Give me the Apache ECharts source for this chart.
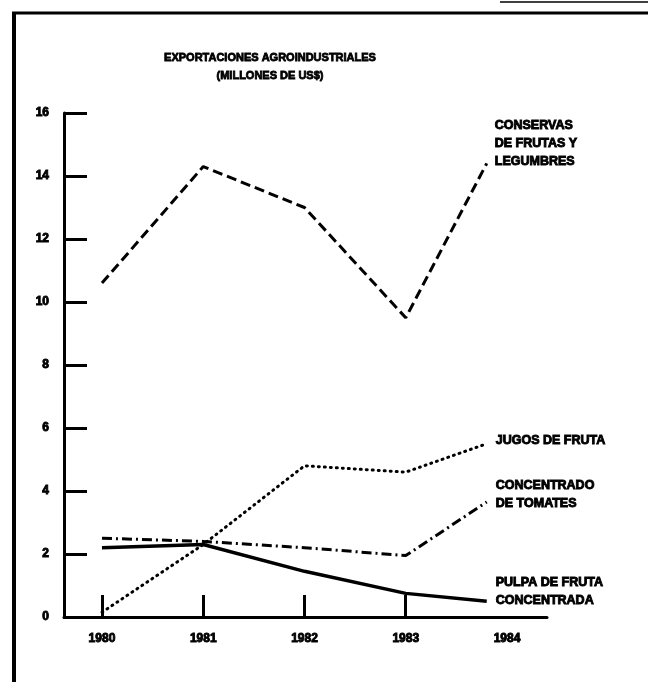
<!DOCTYPE html>
<html>
<head>
<meta charset="utf-8">
<script src="https://cdn.jsdelivr.net/npm/echarts@6/dist/echarts.min.js"></script>
<style>
html,body{margin:0;padding:0;background:#fff;}
#chart{width:648px;height:682px;}
</style>
</head>
<body>
<div id="chart"></div>
<script>
// ---- data ----
const titleLines = ['EXPORTACIONES AGROINDUSTRIALES', '(MILLONES DE US$)'];
// x positions of the points (the drawn lines stop just short of 1984, at the labels)
const years = [1980, 1981, 1982, 1983, 1983.8];
const xLabelYears = [1980, 1981, 1982, 1983, 1984];
const xTickYears = [1980, 1981, 1982, 1983];
const conservas = [10.6, 14.3, 13.0, 9.5, 14.4];
const jugos = [0.15, 2.3, 4.8, 4.6, 5.5];
const tomates = [2.5, 2.4, 2.2, 1.95, 3.65];
const pulpa = [2.2, 2.3, 1.45, 0.75, 0.5];
const labelConservas = 'CONSERVAS\nDE FRUTAS Y\nLEGUMBRES';
const labelJugos = 'JUGOS DE FRUTA';
const labelTomates = 'CONCENTRADO\nDE TOMATES';
const labelPulpa = 'PULPA DE FRUTA\nCONCENTRADA';

const FONT = '"Liberation Sans", Arial, sans-serif';

function pairs(vals) { return vals.map((v, i) => [years[i], v]); }

function endLabel(text, offset) {
  return {
    show: true,
    formatter: text,
    distance: 0,
    offset: offset,
    color: '#000',
    fontFamily: FONT,
    fontWeight: 'bold',
    fontSize: 12.5,
    lineHeight: 18,
    textBorderColor: '#000',
    textBorderWidth: 0.9,
    align: 'left',
    verticalAlign: 'middle'
  };
}

const chart = echarts.init(document.getElementById('chart'), null, {renderer: 'canvas'});
chart.setOption({
  animation: false,
  backgroundColor: '#fff',
  grid: {left: 64, right: 101, top: 113, bottom: 65, containLabel: false},
  xAxis: {
    type: 'value',
    min: 1979.625,
    max: 1984.395,
    splitLine: {show: false},
    axisLine: {show: true, onZero: false, lineStyle: {color: '#000', width: 3}},
    axisTick: {show: true, inside: true, length: 22, customValues: xTickYears, lineStyle: {color: '#000', width: 3}},
    axisLabel: {customValues: xLabelYears, margin: 16, color: '#000', fontFamily: FONT, fontWeight: 'bold', fontSize: 12, textBorderColor: '#000', textBorderWidth: 0.9, formatter: v => String(v)}
  },
  yAxis: {
    type: 'value',
    min: 0,
    max: 16,
    interval: 2,
    splitLine: {show: false},
    axisLine: {show: true, lineStyle: {color: '#000', width: 3}},
    axisTick: {show: true, inside: true, length: 23, lineStyle: {color: '#000', width: 3}},
    axisLabel: {margin: 15, color: '#000', fontFamily: FONT, fontWeight: 'bold', fontSize: 12, textBorderColor: '#000', textBorderWidth: 0.9}
  },
  graphic: [
    {type: 'line', shape: {x1: 14, y1: 12, x2: 14, y2: 682}, style: {stroke: '#000', lineWidth: 4}},
    {type: 'line', shape: {x1: 12, y1: 13, x2: 648, y2: 13}, style: {stroke: '#000', lineWidth: 3}},
    {type: 'line', shape: {x1: 500, y1: 2, x2: 648, y2: 2}, style: {stroke: '#000', lineWidth: 1.5}},
    {type: 'text', x: 270, y: 58, style: {text: titleLines[0], fill: '#000', stroke: '#000', lineWidth: 0.8, font: 'bold 11px ' + FONT, textAlign: 'center', textVerticalAlign: 'middle'}},
    {type: 'text', x: 270, y: 76, style: {text: titleLines[1], fill: '#000', stroke: '#000', lineWidth: 0.8, font: 'bold 11px ' + FONT, textAlign: 'center', textVerticalAlign: 'middle'}}
  ],
  series: [
    {
      type: 'line', data: pairs(conservas), symbol: 'none',
      lineStyle: {color: '#000', width: 3, type: [10, 5]},
      endLabel: endLabel(labelConservas, [8, -20])
    },
    {
      type: 'line', data: pairs(jugos), symbol: 'none',
      lineStyle: {color: '#000', width: 3, type: [1, 5], cap: 'round'},
      endLabel: endLabel(labelJugos, [9, -3])
    },
    {
      type: 'line', data: pairs(tomates), symbol: 'none',
      lineStyle: {color: '#000', width: 3, type: [10, 4, 2, 4]},
      endLabel: endLabel(labelTomates, [9, -7])
    },
    {
      type: 'line', data: pairs(pulpa), symbol: 'none',
      lineStyle: {color: '#000', width: 3.5},
      endLabel: endLabel(labelPulpa, [9, -10])
    }
  ]
});
</script>
</body>
</html>
